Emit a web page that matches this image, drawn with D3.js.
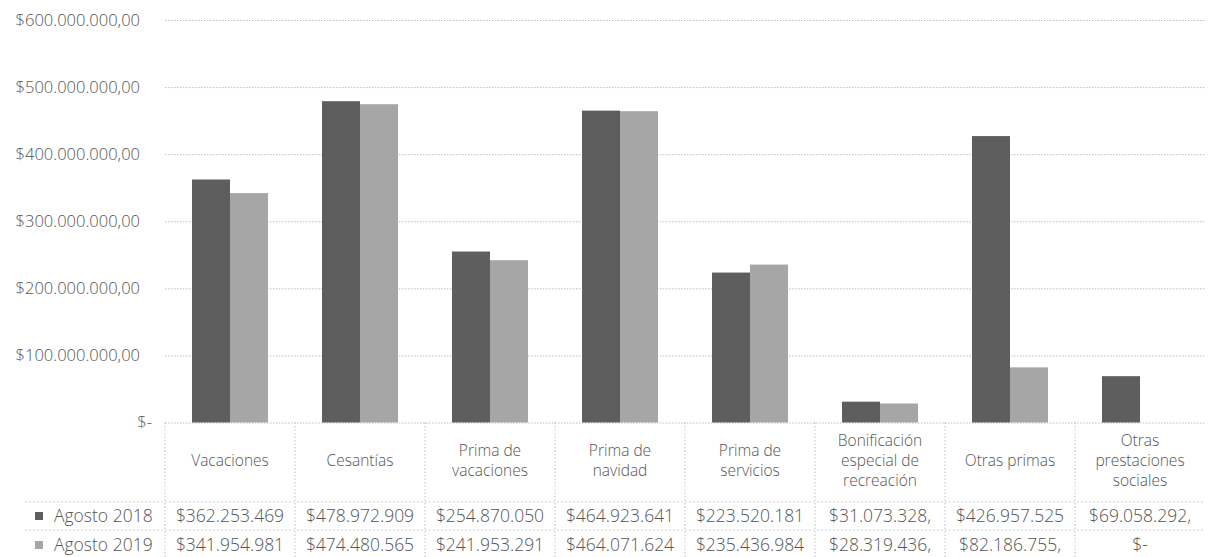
<!DOCTYPE html>
<html>
<head>
<meta charset="utf-8">
<script src="https://cdn.jsdelivr.net/npm/d3@7"></script>
<style>
  html, body { margin: 0; padding: 0; background: #fff; }
  svg { display: block; font-family: "Open Sans", "Noto Sans", sans-serif; font-weight: 300; }
</style>
</head>
<body>
<svg id="chart" width="1216" height="557"></svg>
<script>
// ---- Data ----
const categories = ["Vacaciones", "Cesantías", "Prima de vacaciones", "Prima de navidad",
  "Prima de servicios", "Bonificación especial de recreación", "Otras primas",
  "Otras prestaciones sociales"];
const categoryLabelLines = [["Vacaciones"], ["Cesantías"], ["Prima de", "vacaciones"],
  ["Prima de", "navidad"], ["Prima de", "servicios"], ["Bonificación", "especial de", "recreación"],
  ["Otras primas"], ["Otras", "prestaciones", "sociales"]];
const seriesNames = ["Agosto 2018", "Agosto 2019"];
const agosto2018 = [362253469, 478972909, 254870050, 464923641, 223520181, 31073328, 426957525, 69058292];
const agosto2019 = [341954981, 474480565, 241953291, 464071624, 235436984, 28319436, 82186755, 0];
const yTicks = [0, 100000000, 200000000, 300000000, 400000000, 500000000, 600000000];

const seriesValues = [agosto2018, agosto2019];
const colors = ["#5e5e5e", "#a6a6a6"];
const textColor = "#555555";
const gridColor = "#bdbdbd";

// ---- Formatting ----
const locale = d3.formatLocale({ decimal: ",", thousands: ".", grouping: [3], currency: ["$", ""] });
const fmt = locale.format("$,.2f");
const axisFmt = v => v === 0 ? "$-" : fmt(v);
const cellFmt = v => v === 0 ? "$-" : fmt(v).slice(0, 12);

// ---- Layout ----
const svg = d3.select("#chart");
const plotLeft = 165, plotRight = 1205, plotTop = 20, plotBottom = 422.5;
const rowLines = [502, 530];
const rowCenters = [516, 545];

const x0 = d3.scaleBand().domain(categories).range([plotLeft, plotRight])
  .paddingInner(54 / 130).paddingOuter(27 / 130);
const x1 = d3.scaleBand().domain(seriesNames).range([0, x0.bandwidth()]);
const y = d3.scaleLinear().domain([0, 600000000]).range([plotBottom, plotTop]);
const step = x0.step();

// gridlines + y labels
const yAxis = d3.axisLeft(y).tickValues(yTicks).tickFormat(axisFmt)
  .tickSize(-(plotRight - plotLeft)).tickPadding(25);
const gAxis = svg.append("g").attr("transform", `translate(${plotLeft},0)`).call(yAxis)
  .attr("font-family", null).attr("font-size", null);
gAxis.select(".domain").remove();
gAxis.selectAll(".tick line").attr("stroke", gridColor).attr("stroke-dasharray", "1.5,1.5");
gAxis.selectAll(".tick text")
  .attr("fill", textColor).attr("font-size", 16.5)
  .attr("dx", d => d === 0 ? 12 : 0);

// bars
const groups = svg.append("g").selectAll("g").data(categories).join("g")
  .attr("transform", d => `translate(${x0(d)},0)`);
groups.selectAll("rect")
  .data((d, i) => seriesNames.map((s, j) => ({ s, v: seriesValues[j][i], j })))
  .join("rect")
  .attr("x", d => x1(d.s))
  .attr("y", d => y(d.v))
  .attr("width", x1.bandwidth())
  .attr("height", d => y(0) - y(d.v))
  .attr("fill", d => colors[d.j]);

// ---- Data table ----
const table = svg.append("g");
table.selectAll("line.v").data(d3.range(categories.length)).join("line")
  .attr("class", "v")
  .attr("x1", i => plotLeft + i * step).attr("x2", i => plotLeft + i * step)
  .attr("y1", plotBottom).attr("y2", 557)
  .attr("stroke", gridColor).attr("stroke-dasharray", "1.5,2");
table.selectAll("line.h").data(rowLines).join("line")
  .attr("class", "h")
  .attr("x1", 25).attr("x2", plotRight)
  .attr("y1", d => d).attr("y2", d => d)
  .attr("stroke", gridColor).attr("stroke-dasharray", "1.5,2.5");

// category headers
const headerCenter = 461;
const headerTopMin = 432;
const lineH = 20;
categories.forEach((c, i) => {
  const lines = categoryLabelLines[i];
  const cx = x0(c) + x0.bandwidth() / 2;
  const first = Math.max(headerTopMin, headerCenter - (lines.length - 1) / 2 * lineH);
  lines.forEach((ln, k) => {
    table.append("text").attr("x", cx).attr("y", first + k * lineH)
      .attr("dy", "0.35em").attr("text-anchor", "middle")
      .attr("fill", textColor).attr("font-size", 15.5).text(ln);
  });
});

// rows
seriesNames.forEach((s, j) => {
  table.append("rect").attr("x", 35).attr("y", rowCenters[j] - 4)
    .attr("width", 8).attr("height", 8).attr("fill", colors[j]);
  table.append("text").attr("x", 54).attr("y", rowCenters[j]).attr("dy", "0.35em")
    .attr("fill", textColor).attr("font-size", 17.5).text(s);
  categories.forEach((c, i) => {
    table.append("text").attr("x", x0(c) + x0.bandwidth() / 2).attr("y", rowCenters[j])
      .attr("dy", "0.35em").attr("text-anchor", "middle")
      .attr("fill", textColor).attr("font-size", 17.5)
      .text(cellFmt(seriesValues[j][i]));
  });
});
</script>
</body>
</html>
